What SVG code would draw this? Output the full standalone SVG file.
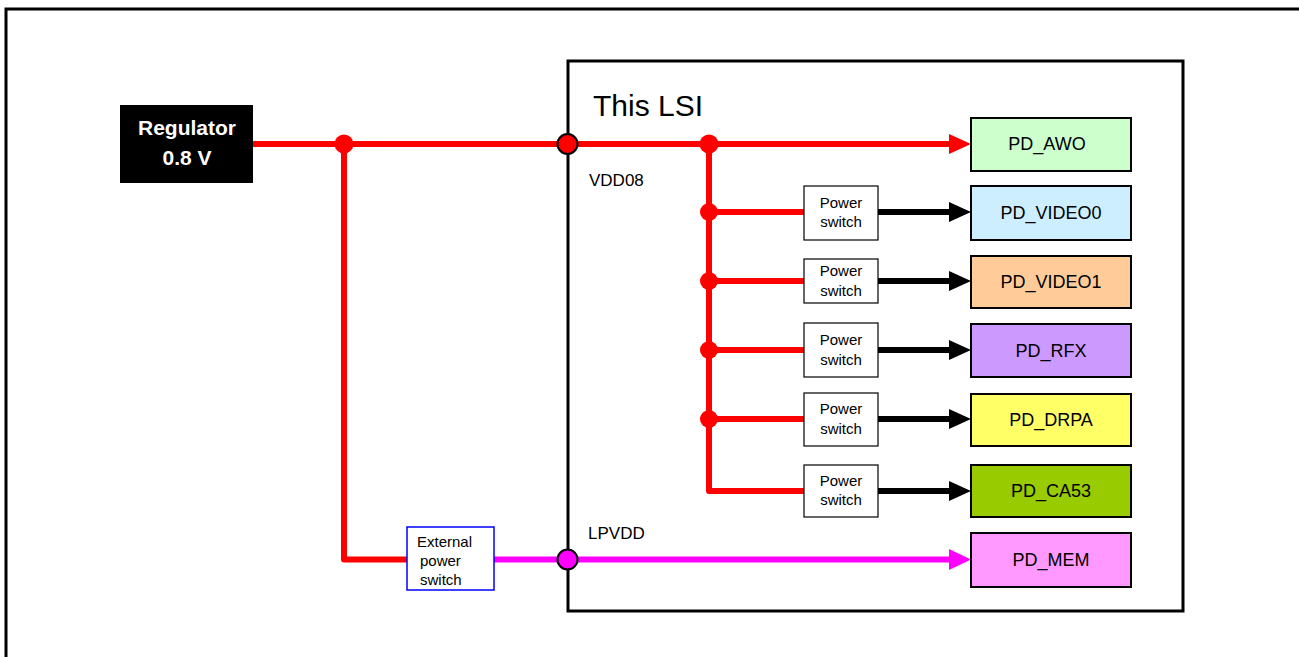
<svg xmlns="http://www.w3.org/2000/svg" width="1299" height="657" viewBox="0 0 1299 657">
<defs>
<style>
text{font-family:"Liberation Sans",Arial,sans-serif;fill:#000}
.pd{stroke:#000;stroke-width:2}
.pdt{font-size:18px;text-anchor:middle}
.sw{fill:#fff;stroke:#000;stroke-width:1.2}
.swt{font-size:15px;text-anchor:middle}
.red{stroke:#ff0000;stroke-width:6;fill:none;stroke-linejoin:round}
.blk{stroke:#000;stroke-width:6;fill:none}
.mag{stroke:#ff00ff;stroke-width:6;fill:none}
.dot{fill:#ff0000}
.lbl{font-size:17px}
</style>
<marker id="ahR" markerUnits="userSpaceOnUse" markerWidth="22" markerHeight="20" refX="0" refY="10" orient="auto" viewBox="0 0 22 20"><path d="M0,0 L22,10 L0,20 Z" fill="#ff0000"/></marker>
<marker id="ahB" markerUnits="userSpaceOnUse" markerWidth="22" markerHeight="20" refX="0" refY="10" orient="auto" viewBox="0 0 22 20"><path d="M0,0 L22,10 L0,20 Z" fill="#000"/></marker>
<marker id="ahM" markerUnits="userSpaceOnUse" markerWidth="22" markerHeight="21" refX="0" refY="10.5" orient="auto" viewBox="0 0 22 21"><path d="M0,0 L22,10.5 L0,21 Z" fill="#ff00ff"/></marker>
</defs>
<rect width="1299" height="657" fill="#fff"/>
<path d="M6,657 V9 H1299" fill="none" stroke="#000" stroke-width="3"/>

<g id="lsi">
<rect x="568" y="61" width="615" height="550" fill="#fff" stroke="#000" stroke-width="3"/>
<text x="593" y="116" font-size="30">This LSI</text>
<text x="589" y="186" class="lbl">VDD08</text>
<text x="588" y="539" class="lbl">LPVDD</text>
</g>

<g id="connectors">
<path class="red" d="M253,144 H949" marker-end="url(#ahR)"/>
<path class="red" d="M344,144 V559.5 H407"/>
<path class="red" d="M709,144 V491 H804"/>
<path class="red" d="M709,212 H804"/>
<path class="red" d="M709,281 H804"/>
<path class="red" d="M709,350 H804"/>
<path class="red" d="M709,419 H804"/>
<path class="blk" d="M878,212 H949" marker-end="url(#ahB)"/>
<path class="blk" d="M878,281 H949" marker-end="url(#ahB)"/>
<path class="blk" d="M878,350 H949" marker-end="url(#ahB)"/>
<path class="blk" d="M878,419 H949" marker-end="url(#ahB)"/>
<path class="blk" d="M878,491 H949" marker-end="url(#ahB)"/>
<path class="mag" d="M494,559.5 H949" marker-end="url(#ahM)"/>
<circle class="dot" cx="344" cy="144" r="9.5"/>
<circle class="dot" cx="709" cy="144" r="9.5"/>
<circle class="dot" cx="709" cy="212" r="9"/>
<circle class="dot" cx="709" cy="281" r="9"/>
<circle class="dot" cx="709" cy="350" r="9"/>
<circle class="dot" cx="709" cy="419" r="9"/>
<circle cx="567.5" cy="144" r="10" fill="#ff0000" stroke="#000" stroke-width="2"/>
<circle cx="567.5" cy="559.5" r="10" fill="#ff00ff" stroke="#000" stroke-width="2"/>
</g>

<g id="regulator">
<rect x="120" y="105" width="133" height="78" fill="#000"/>
<text x="187" y="135" font-size="21" font-weight="bold" text-anchor="middle" style="fill:#fff">Regulator</text>
<text x="187" y="165" font-size="21" font-weight="bold" text-anchor="middle" style="fill:#fff">0.8 V</text>
</g>

<g id="ext-switch">
<rect x="407" y="527" width="87" height="63" fill="#fff" stroke="#0000ff" stroke-width="1.5"/>
<text x="417" y="547" font-size="15">External</text>
<text x="420" y="566" font-size="15">power</text>
<text x="420" y="585" font-size="15">switch</text>
</g>

<g id="sw1"><rect class="sw" x="804" y="186" width="74" height="54"/><text class="swt" x="841" y="208">Power</text><text class="swt" x="841" y="227">switch</text></g>
<g id="sw2"><rect class="sw" x="804" y="259" width="74" height="44"/><text class="swt" x="841" y="276">Power</text><text class="swt" x="841" y="296">switch</text></g>
<g id="sw3"><rect class="sw" x="804" y="323" width="74" height="54"/><text class="swt" x="841" y="345">Power</text><text class="swt" x="841" y="365">switch</text></g>
<g id="sw4"><rect class="sw" x="804" y="393" width="74" height="53"/><text class="swt" x="841" y="414">Power</text><text class="swt" x="841" y="434">switch</text></g>
<g id="sw5"><rect class="sw" x="804" y="465" width="74" height="52"/><text class="swt" x="841" y="486">Power</text><text class="swt" x="841" y="505">switch</text></g>

<g id="pd_awo"><rect class="pd" x="971" y="118" width="160" height="53" fill="#ccffcc"/><text class="pdt" x="1047" y="150">PD_AWO</text></g>
<g id="pd_video0"><rect class="pd" x="971" y="186" width="160" height="54" fill="#cceeff"/><text class="pdt" x="1051" y="219">PD_VIDEO0</text></g>
<g id="pd_video1"><rect class="pd" x="971" y="256" width="160" height="52" fill="#ffcc99"/><text class="pdt" x="1051" y="288">PD_VIDEO1</text></g>
<g id="pd_rfx"><rect class="pd" x="971" y="324" width="160" height="53" fill="#cc99ff"/><text class="pdt" x="1051" y="357">PD_RFX</text></g>
<g id="pd_drpa"><rect class="pd" x="971" y="394" width="160" height="52" fill="#ffff66"/><text class="pdt" x="1051" y="426">PD_DRPA</text></g>
<g id="pd_ca53"><rect class="pd" x="971" y="465" width="160" height="52" fill="#99cc00"/><text class="pdt" x="1051" y="497">PD_CA53</text></g>
<g id="pd_mem"><rect class="pd" x="971" y="533" width="160" height="54" fill="#ff99ff"/><text class="pdt" x="1051" y="566">PD_MEM</text></g>
</svg>
